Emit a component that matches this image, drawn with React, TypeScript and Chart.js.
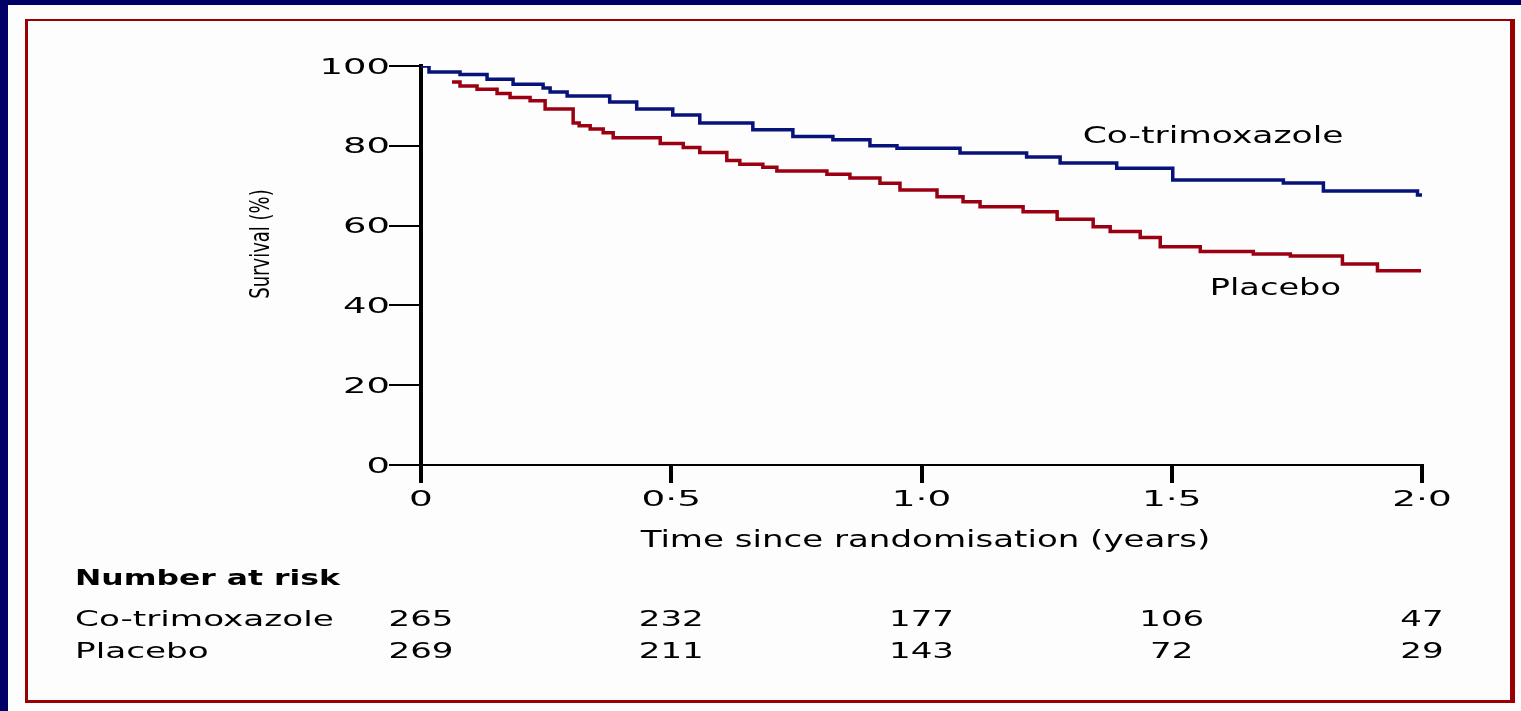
import React, { useEffect, useRef } from "react";
import { Chart, registerables } from "chart.js";

Chart.register(...registerables);

// Kaplan-Meier curves (time in years, survival in %)
const cotrimTimes = [0, 0.016, 0.078, 0.132, 0.184, 0.244, 0.258, 0.292, 0.377, 0.431, 0.503, 0.557, 0.663, 0.743, 0.823, 0.897, 0.951, 1.077, 1.21, 1.277, 1.39, 1.502, 1.723, 1.803, 1.991, 2.0];
const cotrimSurvival = [100, 98.5, 97.9, 96.7, 95.4, 94.5, 93.5, 92.5, 91.0, 89.2, 87.7, 85.7, 84.0, 82.3, 81.5, 80.0, 79.4, 78.2, 77.2, 75.7, 74.4, 71.4, 70.7, 68.7, 67.7, 67.7];

const placeboTimes = [0.062, 0.078, 0.112, 0.152, 0.178, 0.218, 0.248, 0.304, 0.316, 0.338, 0.364, 0.384, 0.478, 0.524, 0.557, 0.611, 0.637, 0.683, 0.711, 0.811, 0.857, 0.917, 0.957, 1.031, 1.083, 1.117, 1.203, 1.271, 1.343, 1.377, 1.437, 1.477, 1.557, 1.663, 1.737, 1.841, 1.911, 1.998];
const placeboSurvival = [96.0, 95.0, 94.2, 93.1, 92.1, 91.3, 89.2, 85.7, 85.0, 84.2, 83.3, 82.0, 80.6, 79.6, 78.3, 76.3, 75.4, 74.6, 73.7, 72.9, 71.9, 70.6, 68.9, 67.2, 66.0, 64.7, 63.5, 61.6, 59.7, 58.5, 57.0, 54.7, 53.5, 52.9, 52.4, 50.4, 48.7, 48.7];

const xTickValues = [0, 0.5, 1, 1.5, 2];
const xTickLabels = ["0", "0·5", "1·0", "1·5", "2·0"];
const yTickValues = [0, 20, 40, 60, 80, 100];
const yTickLabels = ["0", "20", "40", "60", "80", "100"];

const seriesNames = ["Co-trimoxazole", "Placebo"];
const riskTimes = [0, 0.5, 1, 1.5, 2];
const riskCotrim = [265, 232, 177, 106, 47];
const riskPlacebo = [269, 211, 143, 72, 29];

const xTitle = "Time since randomisation (years)";
const yTitle = "Survival (%)";
const riskTitle = "Number at risk";

const FONT = "'DejaVu Sans', sans-serif";

function drawText(
  ctx: CanvasRenderingContext2D,
  text: string,
  x: number,
  y: number,
  font: string,
  sx: number,
  align: "left" | "center" | "right"
) {
  ctx.save();
  ctx.font = font;
  ctx.textBaseline = "alphabetic";
  ctx.textAlign = "left";
  ctx.fillStyle = "#000";
  const w = ctx.measureText(text).width * sx;
  const left = align === "left" ? x : align === "center" ? x - w / 2 : x - w;
  ctx.translate(left, y);
  ctx.scale(sx, 1);
  ctx.fillText(text, 0, 0);
  ctx.restore();
}

const textPlugin = {
  id: "kmText",
  afterDraw(chart: any) {
    const ctx: CanvasRenderingContext2D = chart.ctx;
    const xs = chart.scales.x;
    const ys = chart.scales.y;
    const area = chart.chartArea;

    // y tick labels
    yTickValues.forEach((v, i) => {
      const py = ys.getPixelForValue(v);
      drawText(ctx, yTickLabels[i], area.left - 31, py + 7.5, `20.5px ${FONT}`, 1.8, "right");
    });
    // x tick labels
    xTickValues.forEach((v, i) => {
      const px = xs.getPixelForValue(v);
      drawText(ctx, xTickLabels[i], px, area.bottom + 41, `22px ${FONT}`, 1.7, "center");
    });

    // x title
    drawText(ctx, xTitle, (area.left + area.right) / 2 + 4, area.bottom + 82, `23px ${FONT}`, 1.48, "center");

    // y title (rotated)
    ctx.save();
    ctx.font = `18px ${FONT}`;
    ctx.fillStyle = "#000";
    ctx.textAlign = "center";
    ctx.textBaseline = "alphabetic";
    ctx.translate(269, 244);
    ctx.rotate(-Math.PI / 2);
    ctx.scale(1, 1.5);
    ctx.fillText(yTitle, 0, 0);
    ctx.restore();

    // curve labels
    drawText(ctx, seriesNames[0], xs.getPixelForValue(1.322), ys.getPixelForValue(80.7), `23px ${FONT}`, 1.5, "left");
    drawText(ctx, seriesNames[1], xs.getPixelForValue(1.576), ys.getPixelForValue(42.6), `23px ${FONT}`, 1.46, "left");

    // number at risk table
    drawText(ctx, riskTitle, 75, 585, `bold 22px ${FONT}`, 1.43, "left");
    drawText(ctx, seriesNames[0], 75, 626, `21px ${FONT}`, 1.63, "left");
    drawText(ctx, seriesNames[1], 75, 658, `21px ${FONT}`, 1.63, "left");
    riskTimes.forEach((t, i) => {
      const px = xs.getPixelForValue(t);
      drawText(ctx, String(riskCotrim[i]), px, 626, `21px ${FONT}`, 1.62, "center");
      drawText(ctx, String(riskPlacebo[i]), px, 658, `21px ${FONT}`, 1.62, "center");
    });
  },
};

export default function App() {
  const canvasRef = useRef<HTMLCanvasElement | null>(null);

  useEffect(() => {
    if (!canvasRef.current) return;
    const chart = new Chart(canvasRef.current, {
      type: "line",
      data: {
        datasets: [
          {
            label: seriesNames[1],
            data: placeboTimes.map((t, i) => ({ x: t, y: placeboSurvival[i] })),
            borderColor: "#9a0012",
            borderWidth: 3.5,
            pointRadius: 0,
            fill: false,
            stepped: "before",
          },
          {
            label: seriesNames[0],
            data: cotrimTimes.map((t, i) => ({ x: t, y: cotrimSurvival[i] })),
            borderColor: "#08137a",
            borderWidth: 3.5,
            pointRadius: 0,
            fill: false,
            stepped: "before",
          },
        ],
      },
      options: {
        responsive: true,
        maintainAspectRatio: false,
        animation: false,
        events: [],
        layout: { padding: { left: 0, right: 99, top: 66, bottom: 0 } },
        plugins: { legend: { display: false }, tooltip: { enabled: false } },
        scales: {
          x: {
            type: "linear",
            min: 0,
            max: 2,
            afterBuildTicks: (s: any) => {
              s.ticks = xTickValues.map((v) => ({ value: v }));
            },
            afterFit: (s: any) => {
              s.height = 246;
            },
            ticks: { display: false, stepSize: 0.5 },
            grid: { drawOnChartArea: false, drawTicks: true, tickLength: 18, lineWidth: 4, color: "#000" },
            border: { display: true, width: 2, color: "#000" },
          },
          y: {
            type: "linear",
            min: 0,
            max: 100,
            afterBuildTicks: (s: any) => {
              s.ticks = yTickValues.map((v) => ({ value: v }));
            },
            afterFit: (s: any) => {
              s.width = 421;
            },
            ticks: { display: false, stepSize: 20 },
            grid: { drawOnChartArea: false, drawTicks: true, tickLength: 32, lineWidth: 2, color: "#000" },
            border: { display: true, width: 4, color: "#000" },
          },
        },
      },
      plugins: [textPlugin],
    });
    return () => chart.destroy();
  }, []);

  return (
    <div style={{ position: "fixed", left: 0, top: 0, width: 1521, height: 711, background: "#000066", overflow: "hidden" }}>
      <div style={{ position: "absolute", left: 8, top: 5, right: 0, bottom: 0, background: "#fdfdfd" }} />
      <div
        style={{
          position: "absolute",
          left: 25,
          top: 19,
          width: 1515 - 25,
          height: 703 - 19,
          boxSizing: "border-box",
          borderStyle: "solid",
          borderColor: "#990000",
          borderWidth: "2px 5px 3px 3px",
        }}
      />
      <div style={{ position: "absolute", left: 0, top: 0, width: 1521, height: 711 }}>
        <canvas ref={canvasRef} />
      </div>
    </div>
  );
}
